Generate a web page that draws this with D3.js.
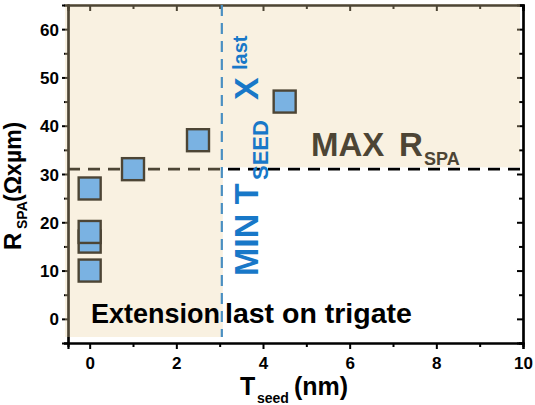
<!DOCTYPE html>
<html>
<head>
<meta charset="utf-8">
<script src="https://cdn.jsdelivr.net/npm/d3@7"></script>
<style>
  html, body { margin: 0; padding: 0; background: #fff; }
  svg { display: block; font-family: "Liberation Sans", Arial, sans-serif; font-weight: bold; }
</style>
</head>
<body>
<svg id="chart" width="535" height="405"></svg>
<script>
// ---- data ----
const seedThickness = [0, 0, 0, 0, 1, 2.5, 4.5];
const rspaValues    = [27, 16, 18, 10, 31, 37, 45];
const xTickValues   = [0, 2, 4, 6, 8, 10];
const yTickValues   = [0, 10, 20, 30, 40, 50, 60];
const maxRspa  = 31;     // horizontal limit
const minTseed = 3.05;   // vertical limit
const xDomain = [-0.5, 10];
const yDomain = [-5, 65];

// ---- layout ----
const svg = d3.select("#chart");
const L = 68, R = 523, T = 5, B = 343;
const x = d3.scaleLinear().domain(xDomain).range([L, R]);
const y = d3.scaleLinear().domain(yDomain).range([B, T]);

const black = "#000";
const brown = "#4d4535";

// axes (black, later tinted by overlay)
const gx = svg.append("g").attr("transform", `translate(0,${B})`)
  .call(d3.axisBottom(x).tickValues(xTickValues).tickSize(6).tickPadding(4).tickFormat(d3.format("d")));
const gxm = svg.append("g").attr("transform", `translate(0,${B})`)
  .call(d3.axisBottom(x).tickValues([1,3,5,7,9]).tickSize(4).tickFormat(""));
const gy = svg.append("g").attr("transform", `translate(${L},0)`)
  .call(d3.axisLeft(y).tickValues(yTickValues).tickSize(6).tickPadding(3).tickFormat(d3.format("d")));
const gym = svg.append("g").attr("transform", `translate(${L},0)`)
  .call(d3.axisLeft(y).tickValues([-5,5,15,25,35,45,55]).tickSize(4).tickFormat(""));
const gt = svg.append("g").attr("transform", `translate(0,${T})`)
  .call(d3.axisBottom(x).tickValues(xTickValues).tickSize(6).tickFormat(""));
const gtm = svg.append("g").attr("transform", `translate(0,${T})`)
  .call(d3.axisBottom(x).tickValues([1,3,5,7,9]).tickSize(4).tickFormat(""));
const gr = svg.append("g").attr("transform", `translate(${R},0)`)
  .call(d3.axisLeft(y).tickValues(yTickValues).tickSize(6).tickFormat(""));
const grm = svg.append("g").attr("transform", `translate(${R},0)`)
  .call(d3.axisLeft(y).tickValues([-5,5,15,25,35,45,55]).tickSize(4).tickFormat(""));

[gx, gxm, gy, gym, gt, gtm, gr, grm].forEach(g => {
  g.select(".domain").attr("stroke", black).attr("stroke-width", 2.2);
  g.selectAll(".tick line").attr("stroke", black).attr("stroke-width", 2);
  g.selectAll("text").attr("fill", black).attr("font-size", 17).attr("font-weight", "bold")
    .attr("font-family", "Liberation Sans, Arial, sans-serif");
});
gx.selectAll("text").attr("dy", "0.95em");
gy.selectAll("text").attr("dy", "0.36em");

// horizontal dashed MAX line
svg.append("line")
  .attr("x1", x(xDomain[0])).attr("x2", x(xDomain[1]))
  .attr("y1", y(maxRspa)).attr("y2", y(maxRspa))
  .attr("stroke", black).attr("stroke-width", 2.6).attr("stroke-dasharray", "12,8");

// semi-transparent beige overlay
const sx0 = x(xDomain[0]) - 3, sx1 = x(xDomain[1]) - 3, sxm = x(minTseed) + 1;
const sy0 = y(yDomain[1]) - 1, sym = y(maxRspa) - 2, sy1 = y(-3.75);
svg.append("path")
  .attr("d", `M${sx0},${sy0}H${sx1}V${sym}H${sxm}V${sy1}H${sx0}Z`)
  .attr("fill", "rgb(237,212,163)").attr("fill-opacity", 0.325);

// vertical dashed MIN line
svg.append("line")
  .attr("x1", x(minTseed)).attr("x2", x(minTseed))
  .attr("y1", y(yDomain[1])).attr("y2", y(-3.75))
  .attr("stroke", "#4a8fc2").attr("stroke-width", 2.2).attr("stroke-dasharray", "11,7");

// points
const sq = 22;
svg.append("g").selectAll("rect")
  .data(seedThickness.map((d, i) => ({ t: d, r: rspaValues[i] })))
  .join("rect")
  .attr("x", d => x(d.t) - sq / 2)
  .attr("y", d => y(d.r) - sq / 2)
  .attr("width", sq).attr("height", sq)
  .attr("fill", "#7ab2e2").attr("stroke", brown).attr("stroke-width", 2.4);

// MAX R_SPA annotation
svg.append("text").attr("x", 311).attr("y", 156).attr("font-size", 33).attr("fill", brown).text("MAX");
svg.append("text").attr("x", 399).attr("y", 156).attr("font-size", 33).attr("fill", brown).text("R");
svg.append("text").attr("x", 424).attr("y", 165).attr("font-size", 18).attr("fill", brown).text("SPA");

// Extension text
svg.append("text").attr("x", 91).attr("y", 323).attr("font-size", 27).attr("fill", black).text("Extension");
svg.append("text").attr("x", 225).attr("y", 323).attr("font-size", 28.5).attr("fill", black).text("last on trigate");

// vertical blue annotation
const blue = "#1878c8";
const vt = (txt, u, base, fs) => svg.append("text")
  .attr("transform", `translate(${base},${276 - u}) rotate(-90)`)
  .attr("font-size", fs).attr("fill", blue).text(txt);
vt("MIN T", 0, 258, 34);
vt("SEED", 96, 268, 22);
vt("X", 176, 258, 34);
vt("last", 206, 247, 20);

// axis titles
const yl = (txt, yy, base, fs) => svg.append("text")
  .attr("transform", `translate(${base},${yy}) rotate(-90)`)
  .attr("font-size", fs).attr("fill", black).text(txt);
yl("R", 250, 21, 24);
yl("SPA", 229, 27, 14);
yl("(Ωxµm)", 202, 21, 23);

svg.append("text").attr("x", 240).attr("y", 395).attr("font-size", 25).attr("fill", black).text("T");
svg.append("text").attr("x", 257).attr("y", 403).attr("font-size", 14).attr("fill", black).text("seed");
svg.append("text").attr("x", 294).attr("y", 395).attr("font-size", 25).attr("fill", black).text("(nm)");
</script>
</body>
</html>
